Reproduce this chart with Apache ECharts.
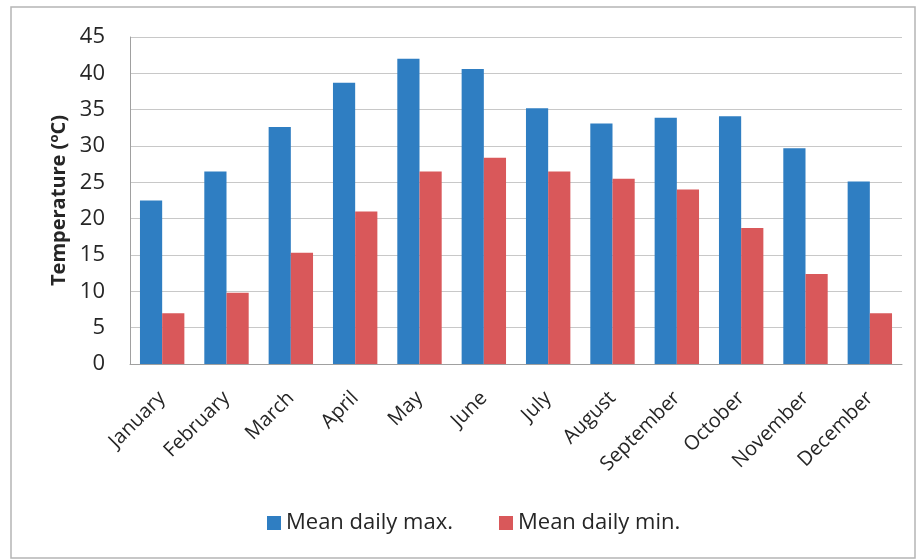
<!DOCTYPE html>
<html><head><meta charset="utf-8">
<script src="https://cdn.jsdelivr.net/npm/echarts@6/dist/echarts.min.js"></script>
<style>html,body{margin:0;padding:0;background:#fff}#c{width:917px;height:560px}</style>
</head><body><div id="c"></div>
<script>
const months = ['January','February','March','April','May','June','July','August','September','October','November','December'];
const maxTemps = [22.5, 26.5, 32.6, 38.7, 42.0, 40.6, 35.2, 33.1, 33.9, 34.1, 29.7, 25.1];
const minTemps = [7.0, 9.8, 15.3, 21.0, 26.5, 28.4, 26.5, 25.5, 24.0, 18.7, 12.4, 7.0];
const seriesNames = ['Mean daily max.', 'Mean daily min.'];

const chart = echarts.init(document.getElementById('c'));
const font = '"Open Sans", "Liberation Sans", sans-serif';
chart.setOption({
  animation: false,
  textStyle: {fontFamily: font},
  graphic: [{type:'rect', shape:{x:11, y:7, width:904, height:551}, style:{fill:'none', stroke:'#b5b5b5', lineWidth:1.5}, silent:true}],
  grid: {left:130, right:15, top:37, bottom:196},
  legend: {
    top: 512, left: 267, padding: 0, itemWidth: 14, itemHeight: 14, itemGap: 46,
    icon: 'rect',
    textStyle: {fontSize: 22, color: '#262626', fontFamily: font},
    data: seriesNames
  },
  xAxis: {
    type: 'category', data: months,
    axisLine: {lineStyle: {color:'#a0a0a0'}},
    axisTick: {show:false},
    axisLabel: {rotate: 45, fontSize: 20, color: '#262626', margin: 31, interval: 0, fontFamily: font}
  },
  yAxis: {
    type: 'value', min: 0, max: 45, interval: 5,
    name: 'Temperature ({sup|o}C)', nameLocation: 'middle', nameGap: 58,
    nameTextStyle: {fontSize: 20, fontWeight: 'bold', color: '#262626', fontFamily: font,
      rich: {sup: {fontSize: 13, fontWeight:'bold', verticalAlign:'top', padding:[0,0,9,0], color:'#262626'}}},
    axisLine: {show: true, lineStyle: {color:'#a0a0a0'}},
    axisLabel: {fontSize: 22, color: '#262626', margin: 25, fontFamily: font},
    splitLine: {lineStyle: {color:'#c8c8c8'}}
  },
  series: [
    {name: seriesNames[0], type:'bar', data: maxTemps, itemStyle:{color:'#2f7ec2'}, barGap: '0%', barCategoryGap: '31%'},
    {name: seriesNames[1], type:'bar', data: minTemps, itemStyle:{color:'#d9585a'}}
  ]
});
</script></body></html>
